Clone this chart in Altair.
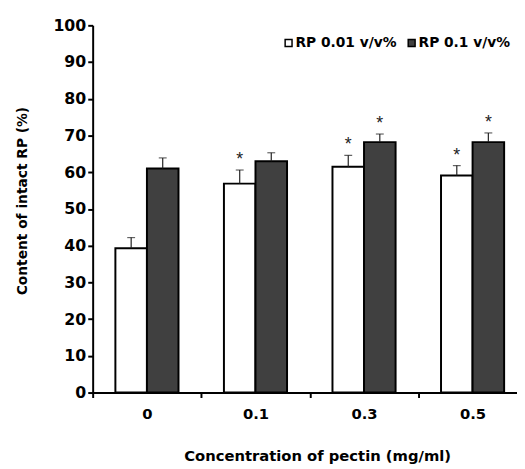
import altair as alt
import pandas as pd

conc = ["0", "0.1", "0.3", "0.5"]
series = ["RP 0.01 v/v%", "RP 0.1 v/v%"]
white_vals = [39.3, 56.9, 61.5, 59.1]
white_err_top = [42.2, 60.6, 64.6, 61.8]
white_sig = [False, True, True, True]
dark_vals = [61.0, 63.0, 68.2, 68.2]
dark_err_top = [63.9, 65.3, 70.4, 70.7]
dark_sig = [False, False, True, True]
y_ticks = [0, 10, 20, 30, 40, 50, 60, 70, 80, 90, 100]

rows = []
for i, c in enumerate(conc):
    rows.append({"conc": c, "series": series[0], "value": white_vals[i],
                 "err_top": white_err_top[i], "sig": white_sig[i]})
    rows.append({"conc": c, "series": series[1], "value": dark_vals[i],
                 "err_top": dark_err_top[i], "sig": dark_sig[i]})
df = pd.DataFrame(rows)

FONT = "DejaVu Sans"

x_enc = alt.X("conc:N", sort=conc,
              scale=alt.Scale(range=[0, 441], paddingInner=0, paddingOuter=0),
              axis=alt.Axis(title="Concentration of pectin (mg/ml)", labelAngle=0,
                            tickBand="extent", tickSize=5, tickWidth=2,
                            tickColor="black", domainColor="black", domainWidth=2,
                            labelFont=FONT, labelFontSize=15, labelFontWeight="bold",
                            labelColor="black", labelPadding=9,
                            titleFont=FONT, titleFontSize=15, titleFontWeight="bold",
                            titleColor="black", titleX=228, titleY=64,
                            titleAlign="center", titleBaseline="middle"))
xo_enc = alt.XOffset("series:N", sort=series,
                     scale=alt.Scale(paddingInner=0, paddingOuter=0.72))
y_scale = alt.Scale(domain=[0, 100], nice=False)
y_axis = alt.Axis(values=y_ticks, title="Content of intact RP (%)", grid=False,
                  labelOverlap=False, tickSize=5, tickWidth=2, tickColor="black",
                  domainColor="black", domainWidth=2,
                  labelFont=FONT, labelFontSize=16, labelFontWeight="bold",
                  labelColor="black", labelPadding=2,
                  titleFont=FONT, titleFontSize=14, titleFontWeight="bold",
                  titleColor="black", titleAngle=270, titleX=-71, titleY=178,
                  titleAlign="center", titleBaseline="middle")

base = alt.Chart(df).encode(x=x_enc, xOffset=xo_enc)

bars = base.mark_bar(stroke="black", strokeWidth=2).encode(
    y=alt.Y("value:Q", scale=y_scale, axis=y_axis),
    fill=alt.Fill("series:N", sort=series,
                  scale=alt.Scale(domain=series, range=["white", "#404040"]),
                  legend=alt.Legend(title=None, orient="none", legendX=192, legendY=11,
                                    direction="horizontal", symbolType="square",
                                    symbolSize=49, symbolStrokeColor="black",
                                    symbolStrokeWidth=1.5, labelFont=FONT,
                                    labelFontSize=14, labelFontWeight="bold",
                                    labelColor="black", labelOffset=0,
                                    columnPadding=8, padding=0)),
)

err_line = base.mark_rule(color="#222222", strokeWidth=1.2).encode(
    y=alt.Y("value:Q", scale=y_scale, axis=y_axis), y2="err_top:Q")
err_cap = base.mark_tick(color="#222222", thickness=1.2, size=8).encode(
    y=alt.Y("err_top:Q", scale=y_scale, axis=y_axis))
stars = base.mark_text(text="*", fontSize=18, font="Liberation Sans", color="#222222",
                       baseline="alphabetic", dy=-5).encode(
    y=alt.Y("err_top:Q", scale=y_scale, axis=y_axis)).transform_filter(alt.datum.sig)

chart = (bars + err_line + err_cap + stars).properties(
    width=431, height=373,
    autosize=alt.AutoSizeParams(type="none"),
    padding={"left": 86, "top": 14, "right": 0, "bottom": 72},
).configure_view(stroke=None)

chart.save("out.html", embed_options={"renderer": "svg", "actions": False})
